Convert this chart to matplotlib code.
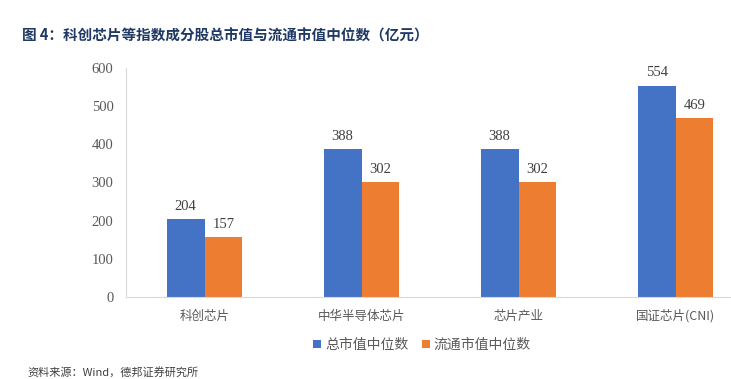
import matplotlib.pyplot as plt
import numpy as np

plt.rcParams["font.family"] = ["Noto Sans CJK SC", "DejaVu Sans"]

categories = ["科创芯片", "中华半导体芯片", "芯片产业", "国证芯片(CNI)"]
total_cap = [204, 388, 388, 554]
float_cap = [157, 302, 302, 469]
series_names = ["总市值中位数", "流通市值中位数"]
y_ticks = [0, 100, 200, 300, 400, 500, 600]

BLUE = "#4472C4"
ORANGE = "#ED7D31"
GRAY = "#595959"
NUM_FONT = "Liberation Serif"

W, H = 731, 379
fig = plt.figure(figsize=(W / 100, H / 100), dpi=100)
# axes in pixel coords: left 126, bottom 297, top 68 (value 600), right 731 (clipped)
ax = fig.add_axes([126 / W, 1 - 297 / H, (731 - 126) / W, (297 - 68) / H])

x = np.arange(len(categories))
width = 0.24
bars1 = ax.bar(x - width / 2, total_cap, width, color=BLUE, label=series_names[0])
bars2 = ax.bar(x + width / 2, float_cap, width, color=ORANGE, label=series_names[1])

for bars in (bars1, bars2):
    for b in bars:
        ax.text(b.get_x() + b.get_width() / 2, b.get_height() + 16, f"{int(b.get_height())}",
                ha="center", va="bottom", fontsize=10.5, color="#404040", family=NUM_FONT)

ax.set_ylim(0, 600)
ax.set_xlim(-0.5, -0.5 + (731 - 126) / 157)
ax.set_yticks(y_ticks)
ax.set_yticklabels([str(v) for v in y_ticks], family=NUM_FONT, fontsize=10.5, color=GRAY)
ax.set_xticks(x)
ax.set_xticklabels(categories, fontsize=9, color=GRAY)
for lbl in ax.get_xticklabels():
    lbl.set_fontfamily(["Noto Sans CJK SC", NUM_FONT])
ax.tick_params(axis="both", length=0)
ax.tick_params(axis="y", pad=9)
ax.tick_params(axis="x", pad=9)

for side in ("top", "right"):
    ax.spines[side].set_visible(False)
ax.spines["left"].set_color("#D9D9D9")
ax.spines["bottom"].set_color("#D9D9D9")

fig.legend(handles=[bars1, bars2], labels=series_names, loc="center",
           bbox_to_anchor=(422 / W, 1 - 345 / H), ncol=2, frameon=False,
           fontsize=10, handlelength=0.55, handleheight=0.55, handletextpad=0.3,
           columnspacing=1.0, labelcolor=GRAY)

fig.text(22 / W, 1 - 36 / H, "图 4：科创芯片等指数成分股总市值与流通市值中位数（亿元）",
         fontsize=10.5, fontweight="bold", color="#1F3864", ha="left", va="center")
fig.text(27 / W, 1 - 367 / H, "资料来源：Wind，德邦证券研究所",
         fontsize=8, color="#404040", ha="left", va="top")

fig.savefig("out.png", dpi=100)
